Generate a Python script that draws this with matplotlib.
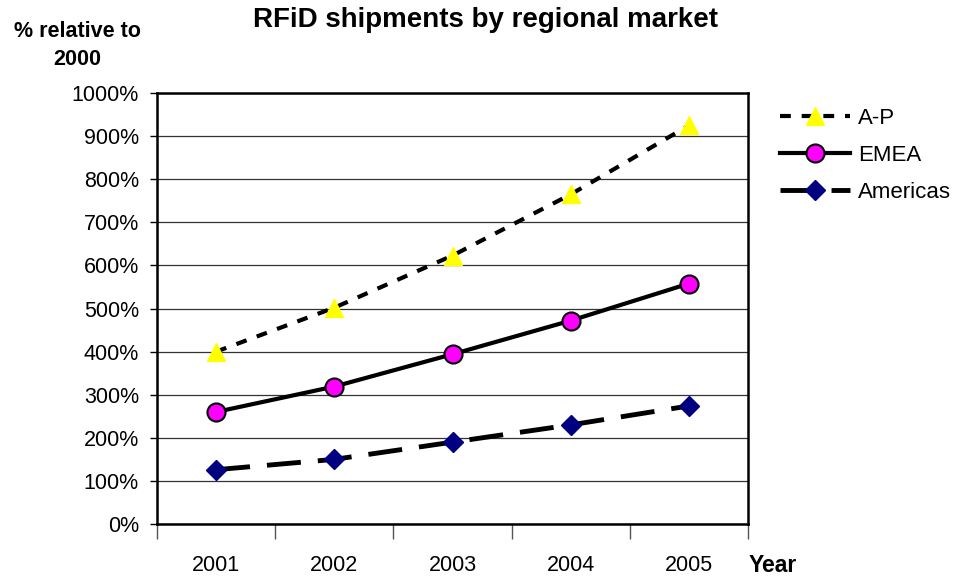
import matplotlib.pyplot as plt
from matplotlib.ticker import FuncFormatter

plt.rcParams["font.family"] = ["Liberation Sans", "DejaVu Sans"]

# Данные
years = ["2001", "2002", "2003", "2004", "2005"]
ap = [400, 502, 623, 765, 925]
emea = [260, 319, 394, 472, 558]
americas = [126, 150, 190, 230, 274]

fig = plt.figure(figsize=(9.59, 5.76), dpi=100)
ax = fig.add_axes([0.1637, 0.0903, 0.6163, 0.748])

x = list(range(len(years)))
ax.plot(x, ap, color="black", linestyle=(0, (2.6, 2.6)), linewidth=3,
        marker="^", markersize=13, markerfacecolor="#FFFF00", markeredgecolor="#FFFF00",
        label="A-P", zorder=3)
ax.plot(x, emea, color="black", linestyle="-", linewidth=3,
        marker="o", markersize=13, markerfacecolor="#FF00FF", markeredgecolor="black",
        markeredgewidth=1.5, label="EMEA", zorder=3)
ax.plot(x, americas, color="black", linestyle=(0, (7, 3.5)), linewidth=3.5,
        marker="D", markersize=10, markerfacecolor="#000080", markeredgecolor="#000080",
        label="Americas", zorder=3)

ax.set_xlim(-0.5, len(years) - 0.5)
ax.set_ylim(0, 1000)
ax.set_yticks(range(0, 1001, 100))
ax.yaxis.set_major_formatter(FuncFormatter(lambda v, p: f"{int(v)}%"))
ax.set_xticks([i - 0.5 for i in range(len(years) + 1)])
ax.set_xticklabels([])
ax.set_xticks(x, minor=True)
ax.set_xticklabels(years, minor=True)
ax.tick_params(axis="x", which="major", direction="out", length=11, width=1, color="#555555")
ax.tick_params(axis="x", which="minor", length=0, pad=22, labelsize=15.5)
ax.tick_params(axis="y", direction="out", length=5, width=1, labelsize=15.5, pad=8)

ax.grid(axis="y", color="#333333", linewidth=0.9)
ax.set_axisbelow(True)
for s in ax.spines.values():
    s.set_linewidth(1.8)
    s.set_color("black")

fig.text(0.506, 0.965, "RFiD shipments by regional market", ha="center", va="center",
         fontsize=20, fontweight="bold")
fig.text(0.081, 0.921, "% relative to\n2000", ha="center", va="center",
         fontsize=15.5, fontweight="bold", linespacing=1.4)
fig.text(0.806, 0.018, "Year", ha="center", va="center", fontsize=16.5, fontweight="bold")

ax.legend(loc="upper left", bbox_to_anchor=(0.804, 0.828), bbox_transform=fig.transFigure,
          frameon=False, fontsize=16, handlelength=3.15, handletextpad=0.36,
          labelspacing=0.72, borderaxespad=0)

fig.savefig("out.png", dpi=100)
